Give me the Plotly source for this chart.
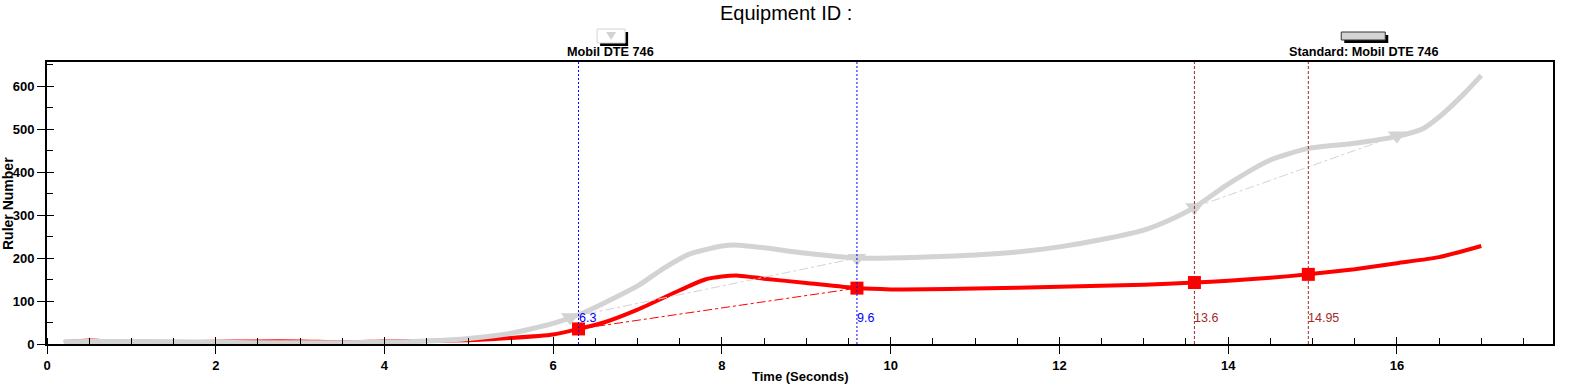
import plotly.graph_objects as go

# ---- data ----
grey_t = [0.2, 0.5, 1.0, 1.5, 2.0, 2.5, 3.0, 3.5, 4.0, 4.5, 5.0, 5.5, 6.0, 6.3, 6.6, 7.0, 7.3, 7.6, 8.0, 8.2,
          8.5, 9.0, 9.6, 10.0, 10.5, 11.0, 11.5, 12.0, 12.5, 13.0, 13.3, 13.6, 14.0, 14.5, 14.95, 15.5, 16.0,
          16.3, 16.5, 16.8, 17.0]
grey_v = [5, 6, 6, 5, 4, 3, 3, 3, 4, 7, 13, 25, 48, 68, 95, 135, 175, 208, 228, 230,
          224, 211, 200, 200, 203, 207, 214, 226, 243, 265, 288, 318, 372, 428, 455, 467, 483,
          500, 528, 583, 625]

red_t = [0.2, 0.5, 1.0, 1.5, 2.0, 2.5, 3.0, 3.5, 4.0, 4.5, 5.0, 5.5, 6.0, 6.3, 6.6, 7.0, 7.5, 7.8, 8.0, 8.2,
         8.5, 9.0, 9.6, 10.0, 11.0, 12.0, 13.0, 13.6, 14.0, 14.5, 14.95, 15.5, 16.0, 16.5, 17.0]
red_v = [4, 8, 3, 4, 5, 6, 6, 4, 6, 7, 9, 14, 22, 35, 50, 80, 125, 150, 157, 159,
         152, 142, 130, 127, 129, 133, 138, 143, 147, 154, 162, 174, 188, 202, 228]

grey_marker_t = [6.2, 9.6, 13.6, 16.0]
grey_marker_v = [62, 200, 318, 485]
red_marker_t = [6.3, 9.6, 13.6, 14.95]
red_marker_v = [35, 130, 143, 162]

grey_dash_pairs = [([6.2, 9.6], [62, 200]), ([13.6, 16.0], [318, 485])]
red_dash_pairs = [([6.3, 9.6], [35, 130])]

vlines_blue = [6.3, 9.6]
vlines_brown = [13.6, 14.95]
vline_labels_blue = ["6.3", "9.6"]
vline_labels_brown = ["13.6", "14.95"]

x_range = [0, 17.85]
y_range = [0, 656]

GREY = "#d3d3d3"
RED = "#ff0000"
BLUE = "#0000ff"
BROWN = "#a52a2a"
FONT = "Liberation Sans, Arial, sans-serif"

fig = go.Figure()

# main curves
fig.add_trace(go.Scatter(x=red_t, y=red_v, mode="lines", line=dict(color=RED, width=4, shape="spline", smoothing=0.6),
                         showlegend=False, hoverinfo="skip"))
fig.add_trace(go.Scatter(x=grey_t, y=grey_v, mode="lines", line=dict(color=GREY, width=5, shape="spline", smoothing=0.6),
                         showlegend=False, hoverinfo="skip"))

# thin dash connectors
for xs, ys in grey_dash_pairs:
    fig.add_trace(go.Scatter(x=xs, y=ys, mode="lines", line=dict(color=GREY, width=1, dash="dashdot"),
                             showlegend=False, hoverinfo="skip"))
for xs, ys in red_dash_pairs:
    fig.add_trace(go.Scatter(x=xs, y=ys, mode="lines", line=dict(color=RED, width=1, dash="dashdot"),
                             showlegend=False, hoverinfo="skip"))

# markers
fig.add_trace(go.Scatter(x=grey_marker_t, y=grey_marker_v, mode="markers",
                         marker=dict(symbol="triangle-down", size=16, color=GREY, line=dict(width=0)),
                         showlegend=False, hoverinfo="skip"))
fig.add_trace(go.Scatter(x=red_marker_t, y=red_marker_v, mode="markers",
                         marker=dict(symbol="square", size=13, color=RED, line=dict(width=0)),
                         showlegend=False, hoverinfo="skip"))

# overlay axes for inner part of major ticks
fig.add_trace(go.Scatter(x=[None], y=[None], xaxis="x2", yaxis="y2", showlegend=False, hoverinfo="skip"))

# vertical lines + labels
for xv, lab in zip(vlines_blue, vline_labels_blue):
    fig.add_shape(type="line", xref="x", yref="paper", x0=xv, x1=xv, y0=0, y1=1,
                  line=dict(color=BLUE, width=1, dash="2px,2px"))
    fig.add_annotation(x=xv, y=60, xref="x", yref="y", text=lab, showarrow=False, xanchor="left", xshift=-2,
                       font=dict(family=FONT, size=12.5, color=BLUE))
for xv, lab in zip(vlines_brown, vline_labels_brown):
    fig.add_shape(type="line", xref="x", yref="paper", x0=xv, x1=xv, y0=0, y1=1,
                  line=dict(color=BROWN, width=1, dash="3px,2px"))
    fig.add_annotation(x=xv, y=60, xref="x", yref="y", text=lab, showarrow=False, xanchor="left", xshift=-2,
                       font=dict(family=FONT, size=12.5, color=BROWN))

# legend-like boxes on top (paper coords)
L, R, T, B = 47, 1552.7, 62, 344
def px(x):
    return (x - L) / (R - L)
def py(y):
    return (B - y) / (B - T)

# box 1: white box with grey border + black shadow
fig.add_shape(type="rect", xref="paper", yref="paper", x0=px(600), x1=px(628), y0=py(46), y1=py(32),
              line=dict(width=0), fillcolor="black", layer="above")
fig.add_shape(type="rect", xref="paper", yref="paper", x0=px(597), x1=px(625), y0=py(43), y1=py(29),
              line=dict(color=GREY, width=1), fillcolor="white", layer="above")
fig.add_shape(type="path", xref="paper", yref="paper",
              path=f"M {px(606)} {py(32)} L {px(616)} {py(32)} L {px(611)} {py(40)} Z",
              line=dict(width=0), fillcolor=GREY, layer="above")
# box 2: grey filled bar + shadow
fig.add_shape(type="rect", xref="paper", yref="paper", x0=px(1344), x1=px(1388), y0=py(43), y1=py(35),
              line=dict(width=0), fillcolor="black", layer="above")
fig.add_shape(type="rect", xref="paper", yref="paper", x0=px(1341), x1=px(1385), y0=py(40), y1=py(32),
              line=dict(color="#333333", width=1), fillcolor=GREY, layer="above")

fig.add_annotation(x=px(610), y=py(52), xref="paper", yref="paper", text="<b>Mobil DTE 746</b>", showarrow=False,
                   font=dict(family=FONT, size=12.7, color="black"), xanchor="center", yanchor="middle")
fig.add_annotation(x=px(1363), y=py(52), xref="paper", yref="paper", text="<b>Standard: Mobil DTE 746</b>",
                   showarrow=False, font=dict(family=FONT, size=12.7, color="black"), xanchor="center", yanchor="middle")
fig.add_annotation(x=px(786), y=py(13), xref="paper", yref="paper", text="Equipment ID :", showarrow=False,
                   font=dict(family=FONT, size=20, color="black"), xanchor="center", yanchor="middle")
# axis titles
fig.add_annotation(x=px(800), y=py(376), xref="paper", yref="paper", text="<b>Time (Seconds)</b>", showarrow=False,
                   font=dict(family=FONT, size=13, color="black"), xanchor="center", yanchor="middle")
fig.add_annotation(x=px(8), y=py(203), xref="paper", yref="paper", text="<b>Ruler Number</b>", showarrow=False,
                   textangle=-90, font=dict(family=FONT, size=14, color="black"), xanchor="center", yanchor="middle")

axis_common = dict(showgrid=False, zeroline=False, showline=True, linecolor="black", linewidth=2, mirror=True,
                   automargin=False)

fig.update_layout(
    width=1578, height=391,
    margin=dict(l=47, r=25, t=62, b=47),
    paper_bgcolor="white", plot_bgcolor="white",
    font=dict(family=FONT, size=12, color="black"),
    xaxis=dict(range=x_range, dtick=2, tick0=0, ticks="outside", ticklen=8, tickwidth=1, tickcolor="black",
               tickfont=dict(family=FONT, size=13, color="black", weight="bold"),
               minor=dict(dtick=0.5, ticks="inside", ticklen=6, tickcolor="black", tickwidth=1),
               **axis_common),
    yaxis=dict(range=y_range, dtick=100, tick0=0, ticks="outside", ticklen=8, tickwidth=1, tickcolor="black",
               tickfont=dict(family=FONT, size=13, color="black", weight="bold"),
               minor=dict(dtick=50, ticks="inside", ticklen=6, tickcolor="black", tickwidth=1),
               **axis_common),
    xaxis2=dict(range=x_range, overlaying="x", anchor="y2", side="bottom", dtick=2, tick0=0, ticks="inside",
                ticklen=7, tickcolor="black", showticklabels=False, showgrid=False, zeroline=False, showline=False,
                automargin=False),
    yaxis2=dict(range=y_range, overlaying="y", anchor="x2", side="left", dtick=100, tick0=0, ticks="inside",
                ticklen=7, tickcolor="black", showticklabels=False, showgrid=False, zeroline=False, showline=False,
                automargin=False),
    showlegend=False,
)

fig.write_html("out.html", config={"displayModeBar": False},
               post_script="document.body.style.margin='0';document.body.style.overflow='hidden';")
